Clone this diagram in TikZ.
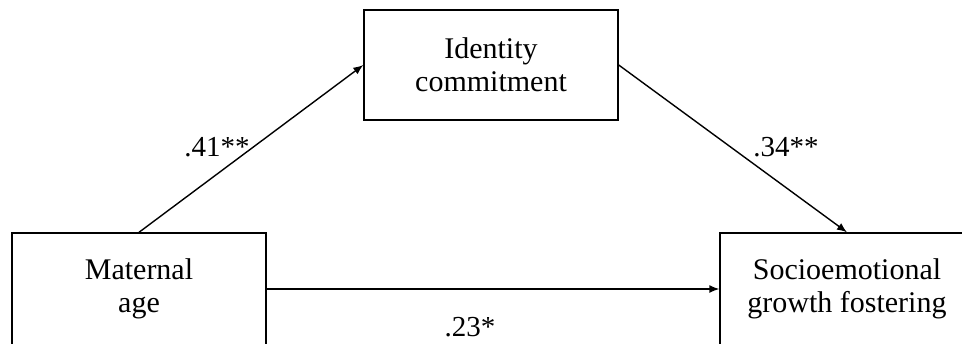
\documentclass[tikz,border=0pt]{standalone}
\usepackage{fontspec}
\setmainfont{Liberation Serif}
\usetikzlibrary{arrows.meta}
\begin{document}
\begin{tikzpicture}[x=1pt,y=-1pt,
  varbox/.style={draw, line width=1.4pt, minimum width=254pt, inner sep=0pt,
    align=center, font=\fontsize{30}{33}\selectfont},
  path/.style={line width=1.4pt, -{Latex[length=10pt,width=8pt]}},
  coef/.style={font=\fontsize{29}{32}\selectfont, inner sep=0pt}]
  \useasboundingbox (0,0) rectangle (962,343);
  \clip (0,0) rectangle (962,343);
  % the three variables
  \node[varbox, minimum height=110pt] (ic) at (491,65) {Identity\\commitment};
  \node[varbox, minimum height=112pt] (ma) at (139,289) {Maternal\\age};
  \node[varbox, minimum height=112pt] (sg) at (847,289) {Socioemotional\\growth fostering};
  % paths with standardized coefficients
  \draw[path] (ma.north) -- (ic.west);
  \draw[path] (ic.east) -- (sg.north);
  \draw[path] (ma.east) -- (sg.west);
  \node[coef] (a) at (217,147) {.41**};
  \node[coef] (b) at (786,147) {.34**};
  \node[coef] (c) at (470,327) {.23*};
\end{tikzpicture}
\end{document}
